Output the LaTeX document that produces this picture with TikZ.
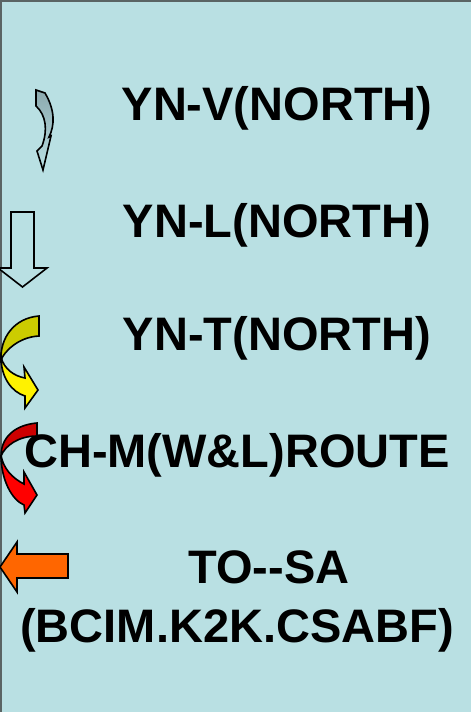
\documentclass[tikz,border=0pt]{standalone}
\usepackage{fontspec}
\setmainfont{Liberation Sans}
\usepackage{tikz}
\usetikzlibrary{positioning}

\definecolor{panelbg}{RGB}{185,224,227}
\definecolor{panelrule}{RGB}{90,100,100}
\definecolor{hookgray}{RGB}{140,170,175}
\definecolor{darkyellow}{RGB}{204,204,0}
\definecolor{darkred}{RGB}{204,0,0}
\definecolor{arroworange}{RGB}{255,102,0}

\begin{document}
\begin{tikzpicture}[x=1pt, y=-1pt,
                      labelnode/.style={font=\fontsize{47}{54}\selectfont\bfseries, anchor=base, inner sep=0pt},
                      arrowline/.style={draw=black, line width=1.6pt, line join=miter},
                  ]
                  \useasboundingbox (0,0) rectangle (471,712);
                  \fill[panelbg] (0,0) rectangle (471,712);
                  \draw[panelrule, line width=1.5pt] (1,712) -- (1,1) -- (471,1);

                  %Nodes
                  \node[labelnode]   (yv)     at (277,120)   {YN-V(NORTH)};
                  \node[labelnode]   (yl)     at (277,237)   {YN-L(NORTH)};
                  \node[labelnode]   (yt)     at (277,350)   {YN-T(NORTH)};
                  \node[labelnode]   (chm)    at (237,467)   {CH-M(W\&L)ROUTE};
                  \node[labelnode]   (tosa)   at (269,583)   {TO-{}-SA};
                  \node[labelnode]   (bcim)   at (237,642)   {(BCIM.K2K.CSABF)};

                  %Arrows
                  % thin hook
                  \shade[top color=hookgray, bottom color=panelbg, draw=black, line width=1.6pt]
                    (36,90) -- (45,93) .. controls (55,110) and (55,125) .. (49,137)
                    -- (51,136) -- (43,170) -- (37,151) -- (42,146)
                    .. controls (48,130) and (46,115) .. (36,106) -- cycle;
                  % hollow block arrow
                  \filldraw[arrowline, fill=panelbg]
                    (11,212) -- (34,212) -- (34,268) -- (47,268) -- (22.5,287)
                    -- (-2,268) -- (11,268) -- cycle;
                  % yellow curved arrow
                  \filldraw[arrowline, fill=darkyellow]
                    (39,316) .. controls (14,318) and (0,338) .. (1,360)
                    .. controls (4,352) and (18,337) .. (39,336) -- cycle;
                  \filldraw[arrowline, fill=yellow]
                    (1,357) .. controls (1,378) and (12,392) .. (25,396)
                    -- (25,408) -- (38,390) -- (24,367) -- (25,378)
                    .. controls (14,376) and (4,369) .. (1,357) -- cycle;
                  % red curved arrow
                  \filldraw[arrowline, fill=darkred]
                    (37,423) .. controls (14,425) and (1,438) .. (1,456)
                    .. controls (5,446) and (18,436) .. (37,436) -- cycle;
                  \filldraw[arrowline, fill=red]
                    (1,455) .. controls (1,480) and (12,500) .. (24,505)
                    -- (25,513) -- (37,495) -- (24,472) -- (24,484)
                    .. controls (12,478) and (3,468) .. (1,455) -- cycle;
                  % orange left arrow
                  \filldraw[arrowline, fill=arroworange]
                    (68,554) -- (68,578) -- (17,578) -- (17,592) -- (0,567)
                    -- (17,542) -- (17,554) -- cycle;
\end{tikzpicture}
\end{document}
